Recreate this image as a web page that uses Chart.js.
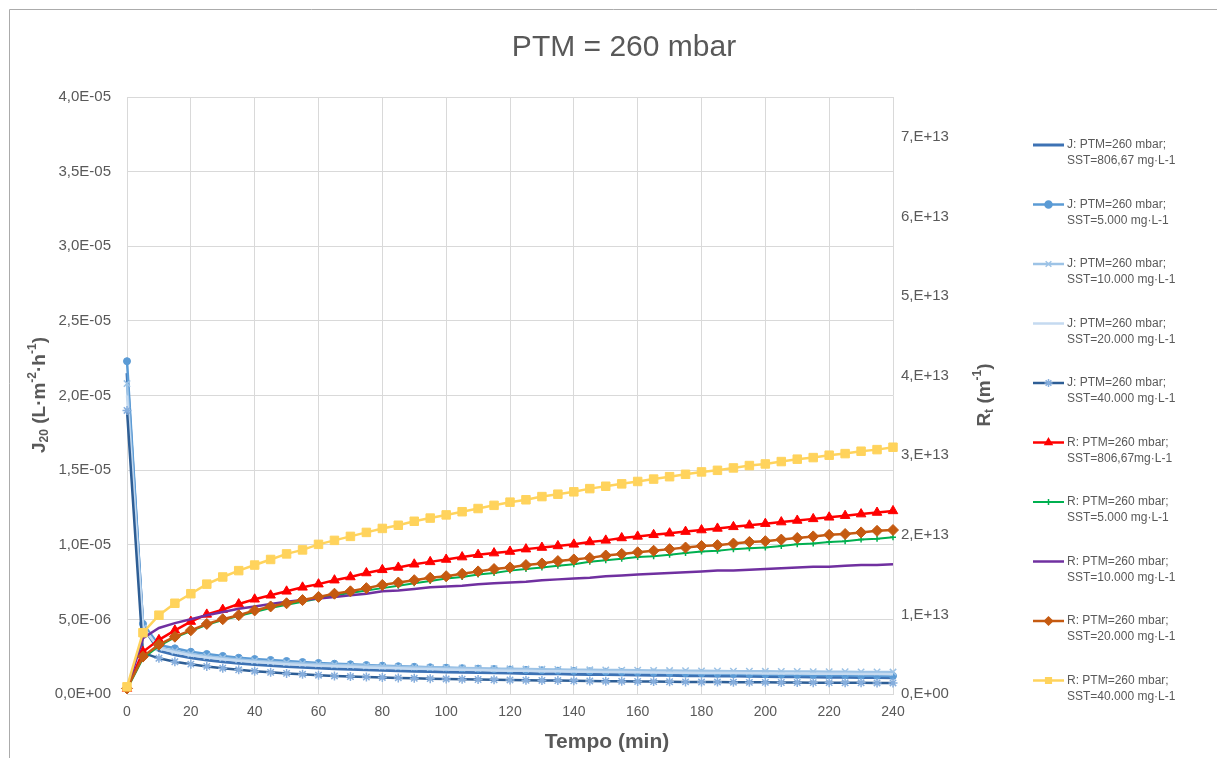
<!DOCTYPE html>
<html><head><meta charset="utf-8">
<script src="https://cdn.jsdelivr.net/npm/chart.js@4.4.1/dist/chart.umd.min.js"></script>
<style>html,body{margin:0;padding:0;background:#fff;overflow:hidden}#wrap{position:relative;width:1217px;height:758px}</style>
</head><body><div id="wrap"><canvas id="c" width="1217" height="758"></canvas></div>
<script>
const chartTitle = 'PTM = 260 mbar';
const xTitle = 'Tempo (min)';
const times = [0,5,10,15,20,25,30,35,40,45,50,55,60,65,70,75,80,85,90,95,100,105,110,115,120,125,130,135,140,145,150,155,160,165,170,175,180,185,190,195,200,205,210,215,220,225,230,235,240];
const xTicks = [0,20,40,60,80,100,120,140,160,180,200,220,240];
const leftTicks = [0,5e-6,1e-5,1.5e-5,2e-5,2.5e-5,3e-5,3.5e-5,4e-5];
const rightTicks = [0,1e13,2e13,3e13,4e13,5e13,6e13,7e13];

const J_806 = [21.5e-6,4.5e-6,2.90e-6,2.62e-6,2.42e-6,2.28e-6,2.16e-6,2.06e-6,1.98e-6,1.91e-6,1.85e-6,1.80e-6,1.75e-6,1.70e-6,1.66e-6,1.63e-6,1.59e-6,1.56e-6,1.53e-6,1.51e-6,1.48e-6,1.46e-6,1.44e-6,1.42e-6,1.40e-6,1.38e-6,1.36e-6,1.35e-6,1.33e-6,1.31e-6,1.30e-6,1.29e-6,1.27e-6,1.26e-6,1.25e-6,1.23e-6,1.22e-6,1.21e-6,1.20e-6,1.19e-6,1.18e-6,1.16e-6,1.15e-6,1.14e-6,1.13e-6,1.12e-6,1.11e-6,1.10e-6,1.09e-6];
const J_5000 = [22.3e-6,4.7e-6,3.28e-6,3.06e-6,2.83e-6,2.68e-6,2.55e-6,2.43e-6,2.34e-6,2.28e-6,2.21e-6,2.14e-6,2.08e-6,2.03e-6,1.99e-6,1.94e-6,1.90e-6,1.86e-6,1.82e-6,1.79e-6,1.76e-6,1.73e-6,1.70e-6,1.67e-6,1.64e-6,1.61e-6,1.59e-6,1.56e-6,1.54e-6,1.52e-6,1.49e-6,1.47e-6,1.45e-6,1.43e-6,1.41e-6,1.39e-6,1.38e-6,1.36e-6,1.34e-6,1.33e-6,1.31e-6,1.30e-6,1.28e-6,1.27e-6,1.26e-6,1.25e-6,1.23e-6,1.22e-6,1.21e-6];
const J_10000 = [20.8e-6,4.4e-6,3.10e-6,2.88e-6,2.68e-6,2.53e-6,2.41e-6,2.31e-6,2.23e-6,2.16e-6,2.10e-6,2.05e-6,2.00e-6,1.96e-6,1.92e-6,1.89e-6,1.86e-6,1.83e-6,1.80e-6,1.78e-6,1.76e-6,1.74e-6,1.72e-6,1.70e-6,1.69e-6,1.67e-6,1.66e-6,1.64e-6,1.63e-6,1.62e-6,1.61e-6,1.60e-6,1.59e-6,1.58e-6,1.57e-6,1.56e-6,1.55e-6,1.54e-6,1.53e-6,1.53e-6,1.52e-6,1.51e-6,1.51e-6,1.50e-6,1.49e-6,1.49e-6,1.48e-6,1.48e-6,1.47e-6];
const J_20000 = [20.0e-6,4.5e-6,3.05e-6,2.80e-6,2.60e-6,2.45e-6,2.33e-6,2.23e-6,2.14e-6,2.07e-6,2.00e-6,1.95e-6,1.90e-6,1.86e-6,1.82e-6,1.78e-6,1.75e-6,1.72e-6,1.69e-6,1.67e-6,1.64e-6,1.62e-6,1.60e-6,1.58e-6,1.56e-6,1.55e-6,1.53e-6,1.52e-6,1.50e-6,1.49e-6,1.48e-6,1.47e-6,1.45e-6,1.44e-6,1.43e-6,1.42e-6,1.41e-6,1.40e-6,1.40e-6,1.39e-6,1.38e-6,1.37e-6,1.37e-6,1.36e-6,1.35e-6,1.35e-6,1.34e-6,1.34e-6,1.33e-6];
const J_40000 = [19.0e-6,2.75e-6,2.39e-6,2.16e-6,2.00e-6,1.85e-6,1.73e-6,1.62e-6,1.53e-6,1.45e-6,1.38e-6,1.32e-6,1.26e-6,1.21e-6,1.17e-6,1.14e-6,1.11e-6,1.08e-6,1.05e-6,1.03e-6,1.01e-6,0.99e-6,0.97e-6,0.95e-6,0.94e-6,0.92e-6,0.91e-6,0.90e-6,0.88e-6,0.87e-6,0.86e-6,0.85e-6,0.84e-6,0.83e-6,0.82e-6,0.81e-6,0.80e-6,0.80e-6,0.79e-6,0.78e-6,0.78e-6,0.77e-6,0.77e-6,0.76e-6,0.76e-6,0.75e-6,0.75e-6,0.74e-6,0.74e-6];

const R_806 = [0.07e13,0.53e13,0.68e13,0.80e13,0.91e13,1.00e13,1.06e13,1.13e13,1.19e13,1.24e13,1.29e13,1.34e13,1.38e13,1.43e13,1.47e13,1.52e13,1.56e13,1.59e13,1.63e13,1.66e13,1.69e13,1.72e13,1.75e13,1.77e13,1.79e13,1.82e13,1.84e13,1.86e13,1.88e13,1.91e13,1.93e13,1.96e13,1.98e13,2.00e13,2.02e13,2.04e13,2.06e13,2.08e13,2.10e13,2.12e13,2.14e13,2.16e13,2.18e13,2.20e13,2.22e13,2.24e13,2.26e13,2.28e13,2.30e13];
const R_5000 = [0.06e13,0.45e13,0.60e13,0.71e13,0.79e13,0.87e13,0.93e13,0.98e13,1.03e13,1.08e13,1.12e13,1.16e13,1.20e13,1.24e13,1.27e13,1.30e13,1.33e13,1.36e13,1.39e13,1.42e13,1.45e13,1.47e13,1.50e13,1.52e13,1.55e13,1.57e13,1.59e13,1.61e13,1.63e13,1.66e13,1.68e13,1.70e13,1.72e13,1.73e13,1.75e13,1.77e13,1.79e13,1.80e13,1.82e13,1.83e13,1.84e13,1.86e13,1.88e13,1.89e13,1.91e13,1.92e13,1.94e13,1.95e13,1.97e13];
const R_10000 = [0.06e13,0.70e13,0.83e13,0.89e13,0.94e13,0.99e13,1.03e13,1.07e13,1.10e13,1.13e13,1.16e13,1.18e13,1.20e13,1.22e13,1.24e13,1.26e13,1.29e13,1.30e13,1.32e13,1.34e13,1.35e13,1.36e13,1.38e13,1.39e13,1.40e13,1.41e13,1.43e13,1.44e13,1.45e13,1.46e13,1.48e13,1.49e13,1.50e13,1.51e13,1.52e13,1.53e13,1.54e13,1.55e13,1.55e13,1.56e13,1.57e13,1.58e13,1.59e13,1.60e13,1.60e13,1.61e13,1.62e13,1.62e13,1.63e13];
const R_20000 = [0.07e13,0.47e13,0.62e13,0.72e13,0.80e13,0.88e13,0.94e13,0.99e13,1.05e13,1.10e13,1.14e13,1.18e13,1.22e13,1.26e13,1.29e13,1.33e13,1.37e13,1.40e13,1.43e13,1.46e13,1.48e13,1.51e13,1.54e13,1.57e13,1.59e13,1.62e13,1.64e13,1.67e13,1.69e13,1.71e13,1.74e13,1.76e13,1.78e13,1.80e13,1.82e13,1.84e13,1.86e13,1.87e13,1.89e13,1.91e13,1.92e13,1.94e13,1.96e13,1.98e13,2.00e13,2.01e13,2.03e13,2.05e13,2.06e13];
const R_40000 = [0.09e13,0.77e13,0.99e13,1.14e13,1.26e13,1.38e13,1.47e13,1.55e13,1.62e13,1.69e13,1.76e13,1.81e13,1.88e13,1.93e13,1.98e13,2.03e13,2.08e13,2.12e13,2.17e13,2.21e13,2.25e13,2.29e13,2.33e13,2.37e13,2.41e13,2.44e13,2.48e13,2.51e13,2.54e13,2.58e13,2.61e13,2.64e13,2.67e13,2.70e13,2.73e13,2.76e13,2.79e13,2.81e13,2.84e13,2.87e13,2.89e13,2.92e13,2.95e13,2.97e13,3.00e13,3.02e13,3.05e13,3.07e13,3.10e13];

const seriesLabels = [
  'J: PTM=260 mbar;\nSST=806,67 mg·L-1',
  'J: PTM=260 mbar;\nSST=5.000 mg·L-1',
  'J: PTM=260 mbar;\nSST=10.000 mg·L-1',
  'J: PTM=260 mbar;\nSST=20.000 mg·L-1',
  'J: PTM=260 mbar;\nSST=40.000 mg·L-1',
  'R: PTM=260 mbar;\nSST=806,67mg·L-1',
  'R: PTM=260 mbar;\nSST=5.000 mg·L-1',
  'R: PTM=260 mbar;\nSST=10.000 mg·L-1',
  'R: PTM=260 mbar;\nSST=20.000 mg·L-1',
  'R: PTM=260 mbar;\nSST=40.000 mg·L-1'
];

const FONT = '"Liberation Sans", Arial, sans-serif';
const TXT = '#595959';

function toXY(arr){ return times.map((t,i)=>({x:t, y:arr[i]})); }
function expFmt(v, digits){
  if (Math.abs(v) < 1e-30) return digits ? '0,0E+00' : '0,E+00';
  const s = v.toExponential(digits);
  const parts = s.split('e');
  const n = parseInt(parts[1],10);
  let m = parts[0].replace('.', ',');
  if (!digits) m = m + ',';
  return m + 'E' + (n<0?'-':'+') + String(Math.abs(n)).padStart(2,'0');
}

const styles = [
  {c:'#3D72B4', w:3, ps:false, r:0},
  {c:'#5B9BD5', w:2.5, ps:'circle', r:3.5, pc:'#5B9BD5'},
  {c:'#9DC3E6', w:2.5, ps:'crossRot', r:4.5, pc:'#9DC3E6'},
  {c:'#C5DAF0', w:2.5, ps:false, r:0},
  {c:'#2E5E95', w:2.5, ps:'star', r:4.5, pc:'#86AEDD'},
  {c:'#FF0000', w:2.5, ps:'triangle', r:5.5, pc:'#FF0000'},
  {c:'#00B050', w:2, ps:'cross', r:3, pc:'#00B050'},
  {c:'#7030A0', w:2.5, ps:false, r:0},
  {c:'#C55A11', w:2.5, ps:'rectRot', r:5.5, pc:'#C55A11'},
  {c:'#FFD35C', w:2.5, ps:'rect', r:6, pc:'#FFD35C'}
];
const seriesData = [J_806, J_5000, J_10000, J_20000, J_40000, R_806, R_5000, R_10000, R_20000, R_40000];

const datasets = seriesData.map((arr, i) => {
  const s = styles[i];
  return {
    label: seriesLabels[i],
    data: toXY(arr),
    yAxisID: i < 5 ? 'y' : 'y2',
    borderColor: s.c,
    backgroundColor: s.pc || s.c,
    borderWidth: s.w,
    pointStyle: s.ps || 'circle',
    pointRadius: s.r,
    pointHoverRadius: s.r,
    pointBackgroundColor: s.pc || s.c,
    pointBorderColor: s.pc || s.c,
    pointBorderWidth: (s.ps === 'crossRot' || s.ps === 'star' || s.ps === 'cross') ? 1.5 : 1,
    tension: 0,
    fill: false,
    order: 20 - i,
    clip: false
  };
});

function drawMarker(ctx, st, x, y){
  if (!st.ps) return;
  ctx.save();
  ctx.fillStyle = st.pc; ctx.strokeStyle = st.pc; ctx.lineWidth = 1.5;
  if (Chart.helpers && Chart.helpers.drawPoint) {
    Chart.helpers.drawPoint(ctx, {pointStyle: st.ps, radius: Math.min(st.r, 4), borderWidth: 1.5, rotation: 0}, x, y);
  } else {
    ctx.beginPath(); ctx.arc(x, y, 3, 0, Math.PI*2); ctx.fill();
  }
  ctx.restore();
}

const decorPlugin = {
  id: 'decor',
  beforeDraw(chart){
    const ctx = chart.ctx;
    ctx.save();
    ctx.fillStyle = '#fff';
    ctx.fillRect(0, 0, chart.width, chart.height);
    ctx.strokeStyle = '#ABABAB'; ctx.lineWidth = 1;
    ctx.beginPath();
    ctx.moveTo(9.5, chart.height); ctx.lineTo(9.5, 9.5); ctx.lineTo(chart.width, 9.5);
    ctx.stroke();
    ctx.restore();
  },
  afterDraw(chart){
    const ctx = chart.ctx;
    ctx.save();
    ctx.fillStyle = TXT;
    ctx.font = '30px ' + FONT;
    ctx.textAlign = 'center'; ctx.textBaseline = 'middle';
    ctx.fillText(chartTitle, 624, 48);
    ctx.font = 'bold 21px ' + FONT;
    ctx.fillText(xTitle, 607, 742);
    drawRich(ctx, [
      {t:'J', s:19}, {t:'20', s:12, dy:5}, {t:' (L·m', s:19}, {t:'-2', s:12, dy:-7},
      {t:'·h', s:19}, {t:'-1', s:12, dy:-7}, {t:')', s:19}
    ], 40, 395);
    drawRich(ctx, [
      {t:'R', s:19}, {t:'t', s:12, dy:5}, {t:' (m', s:19}, {t:'-1', s:12, dy:-7}, {t:')', s:19}
    ], 985, 395);
    ctx.textAlign = 'left'; ctx.textBaseline = 'middle';
    ctx.font = '12px ' + FONT;
    chart.data.datasets.forEach((ds, i) => {
      const st = styles[i];
      const y = 145 + i * 59.5;
      ctx.strokeStyle = st.c; ctx.lineWidth = st.w;
      ctx.beginPath(); ctx.moveTo(1033, y); ctx.lineTo(1064, y); ctx.stroke();
      drawMarker(ctx, st, 1048.5, y);
      ctx.fillStyle = TXT;
      const lines = ds.label.split('\n');
      lines.forEach((ln, k) => ctx.fillText(ln, 1067, y + k * 16));
    });
    ctx.restore();
  }
};

function drawRich(ctx, parts, cx, cy){
  ctx.save();
  let total = 0;
  parts.forEach(p => { ctx.font = 'bold ' + p.s + 'px ' + FONT; p.w = ctx.measureText(p.t).width; total += p.w; });
  ctx.translate(cx, cy);
  ctx.rotate(-Math.PI/2);
  ctx.fillStyle = TXT;
  ctx.textAlign = 'left'; ctx.textBaseline = 'middle';
  let x = -total/2;
  parts.forEach(p => {
    ctx.font = 'bold ' + p.s + 'px ' + FONT;
    ctx.fillText(p.t, x, (p.dy || 0));
    x += p.w;
  });
  ctx.restore();
}

new Chart(document.getElementById('c'), {
  type: 'line',
  data: { datasets },
  options: {
    responsive: false,
    animation: false,
    events: [],
    layout: { padding: { top: 97, left: 0, right: 0, bottom: 0 } },
    plugins: { legend: { display: false }, tooltip: { enabled: false }, title: { display: false } },
    scales: {
      x: {
        type: 'linear', min: xTicks[0], max: xTicks[xTicks.length-1],
        afterBuildTicks: s => { s.ticks = xTicks.map(v => ({value: v})); },
        ticks: { color: TXT, font: { size: 14, family: FONT }, padding: 10, maxRotation: 0, autoSkip: false },
        grid: { color: '#D9D9D9', drawTicks: false, lineWidth: 1 },
        border: { color: '#D9D9D9' },
        afterFit: s => { s.height = 64; }
      },
      y: {
        position: 'left', min: 0, max: leftTicks[leftTicks.length-1],
        afterBuildTicks: s => { s.ticks = leftTicks.map(v => ({value: v})); },
        ticks: { color: TXT, font: { size: 15, family: FONT }, padding: 16, callback: v => expFmt(v, 1) },
        grid: { color: '#D9D9D9', drawTicks: false, lineWidth: 1 },
        border: { display: false },
        afterFit: s => { s.width = 127; }
      },
      y2: {
        position: 'right', min: 0, max: 7.5e13,
        afterBuildTicks: s => { s.ticks = rightTicks.map(v => ({value: v})); },
        ticks: { color: TXT, font: { size: 15, family: FONT }, padding: 8, callback: v => expFmt(v, 0) },
        grid: { display: false, drawTicks: false },
        border: { display: false },
        afterFit: s => { s.width = 1217 - 893; }
      }
    }
  },
  plugins: [decorPlugin]
});
</script>
</body></html>
